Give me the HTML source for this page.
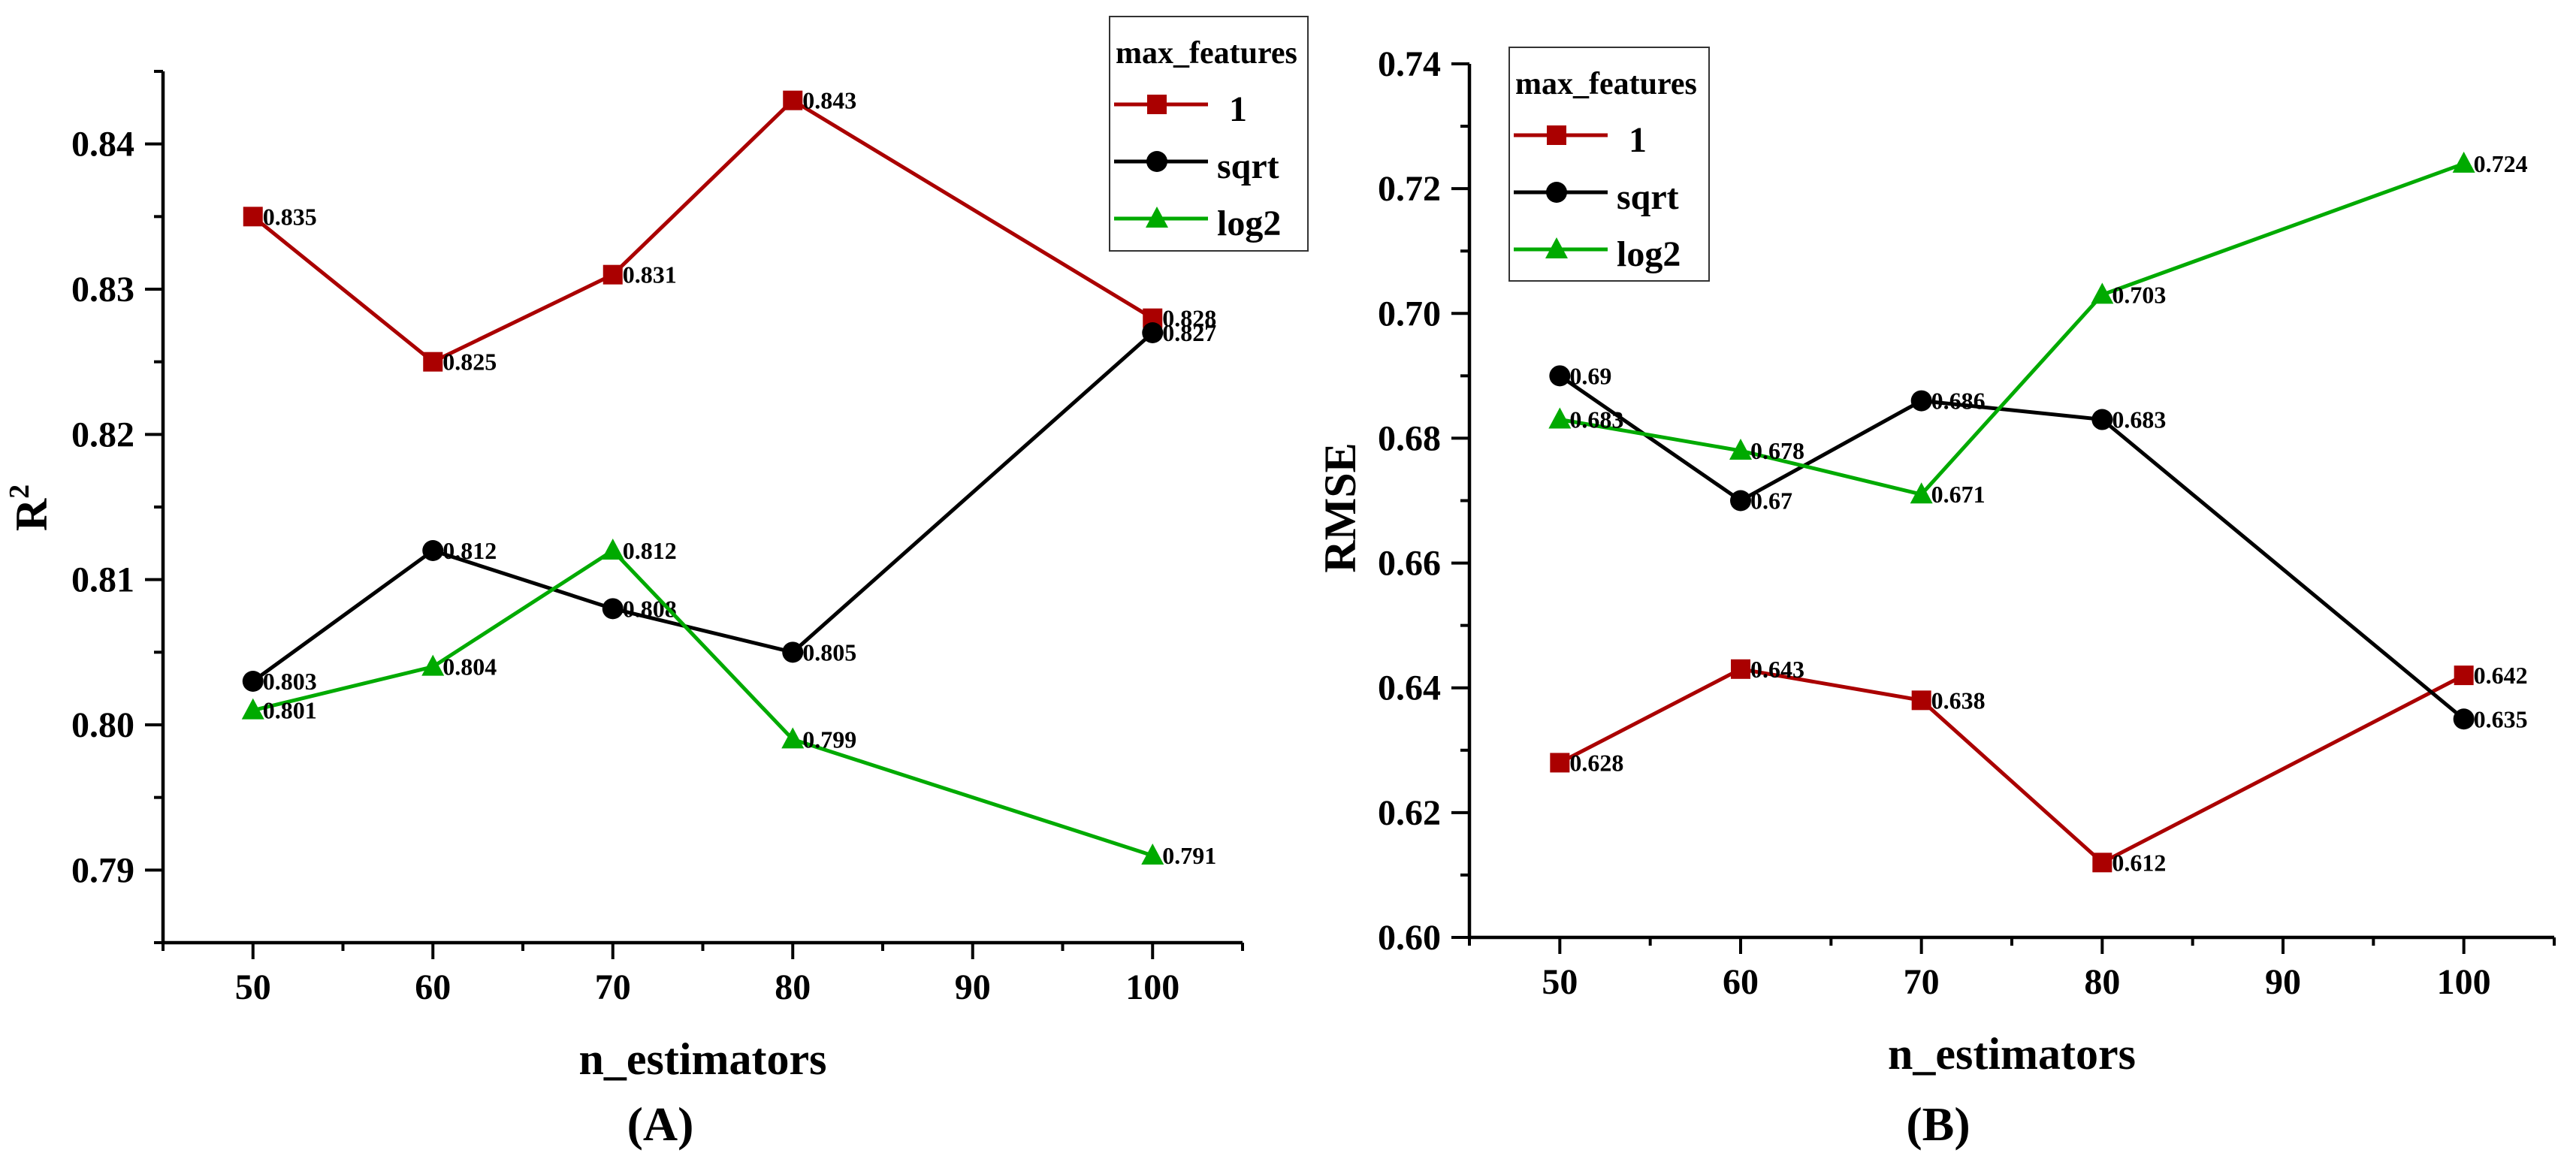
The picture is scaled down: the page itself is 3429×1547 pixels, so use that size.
<!DOCTYPE html>
<html><head><meta charset="utf-8"><style>
html,body{margin:0;padding:0;background:#fff;}
svg{display:block;font-family:"Liberation Serif","Times New Roman",serif;font-weight:bold;}
text{font-family:"Liberation Serif","Times New Roman",serif;font-weight:bold;}
</style></head>
<body>
<svg id="fig" width="3429" height="1547" viewBox="0 0 3429 1547" xmlns="http://www.w3.org/2000/svg" font-family="Liberation Serif, serif" font-weight="bold"></svg>
<script>
const xCategories = [50, 60, 70, 80, 100];
const seriesNames = ["1", "sqrt", "log2"];
const r2One = [0.835, 0.825, 0.831, 0.843, 0.828];
const r2Sqrt = [0.803, 0.812, 0.808, 0.805, 0.827];
const r2Log2 = [0.801, 0.804, 0.812, 0.799, 0.791];
const r2Labels1 = ["0.835","0.825","0.831","0.843","0.828"];
const r2LabelsSqrt = ["0.803","0.812","0.808","0.805","0.827"];
const r2LabelsLog2 = ["0.801","0.804","0.812","0.799","0.791"];
const rmseOne = [0.628, 0.643, 0.638, 0.612, 0.642];
const rmseSqrt = [0.69, 0.67, 0.686, 0.683, 0.635];
const rmseLog2 = [0.683, 0.678, 0.671, 0.703, 0.724];
const rmseLabels1 = ["0.628","0.643","0.638","0.612","0.642"];
const rmseLabelsSqrt = ["0.69","0.67","0.686","0.683","0.635"];
const rmseLabelsLog2 = ["0.683","0.678","0.671","0.703","0.724"];
const xTicks = [50, 60, 70, 80, 90, 100];
const r2Ticks = ["0.79","0.80","0.81","0.82","0.83","0.84"];
const rmseTicks = ["0.60","0.62","0.64","0.66","0.68","0.70","0.72","0.74"];

const NS = "http://www.w3.org/2000/svg";
const svg = document.getElementById("fig");
const RED = "#aa0000", BLK = "#000000", GRN = "#00aa00";
const FONT = '"Liberation Serif", "Times New Roman", serif';
function mk(tag, attrs, parent, text) {
  const e = document.createElementNS(NS, tag);
  for (const k in attrs) e.setAttribute(k, attrs[k]);
  if (tag === "text") { e.setAttribute("font-family", FONT); e.setAttribute("font-weight", "bold"); }
  if (text !== undefined) e.textContent = text;
  (parent || svg).appendChild(e);
  return e;
}
function marker(g, kind, cx, cy, color) {
  let m;
  if (kind === 0) m = mk("rect", {x: cx-13, y: cy-13, width: 26, height: 26, fill: color}, g);
  else if (kind === 1) m = mk("circle", {cx: cx, cy: cy, r: 14, fill: color}, g);
  else m = mk("polygon", {points: `${cx},${cy-16} ${cx+15},${cy+12} ${cx-15},${cy+12}`, fill: color}, g);
  
  
}
function panel(cfg) {
  const g = mk("g", {});
  
  
  const X = v => cfg.x0 + (v - 45) / 60 * (cfg.x1 - cfg.x0);
  const Y = v => cfg.yb - (v - cfg.ymin) / (cfg.ymax - cfg.ymin) * (cfg.yb - cfg.yt);
  const ax = mk("path", {d: `M${cfg.x0},${cfg.yt} V${cfg.yb} H${cfg.x1}`, stroke: "#000", "stroke-width": 4.5, fill: "none"}, g);
  
  
  for (let v = 45; v <= 105.01; v += 5) {
    const major = v % 10 === 0;
    const t = mk("line", {x1: X(v), x2: X(v), y1: cfg.yb, y2: cfg.yb + (major ? 22 : 11), stroke: "#000", "stroke-width": 4}, g);
    
    
  }
  xTicks.forEach(v => {
    const t = mk("text", {x: X(v), y: cfg.yb + 75, "text-anchor": "middle", "font-size": 48}, g, String(v));
    
    
  });
  const nMinor = Math.round((cfg.ymax - cfg.ymin) / cfg.minorStep);
  for (let i = 0; i <= nMinor; i++) {
    const v = cfg.ymin + i * cfg.minorStep;
    const isMajor = cfg.yTicks.some(s => Math.abs(parseFloat(s) - v) < 1e-6);
    const t = mk("line", {x1: cfg.x0 - (isMajor ? 24 : 12), x2: cfg.x0, y1: Y(v), y2: Y(v), stroke: "#000", "stroke-width": 4}, g);
    
    
  }
  cfg.yTicks.forEach(s => {
    const t = mk("text", {x: cfg.x0 - 38, y: Y(parseFloat(s)) + 16, "text-anchor": "end", "font-size": 48}, g, s);
    
    
  });
  const xt = mk("text", {x: (cfg.x0 + cfg.x1) / 2, y: cfg.yb + 175, "text-anchor": "middle", "font-size": 60}, g, "n_estimators");
  
  
  const yt = mk("text", {x: 0, y: 0, "text-anchor": "middle", "font-size": 60, transform: `translate(${cfg.ytX},${cfg.ytY}) rotate(-90)`}, g);
  
  
  if (cfg.ytitle === "R2") {
    mk("tspan", {}, yt, "R");
    mk("tspan", {"font-size": 38, dy: -24}, yt, "2");
  } else yt.textContent = cfg.ytitle;
  const pl = mk("text", {x: cfg.panelX, y: 1518, "text-anchor": "middle", "font-size": 64}, g, cfg.panelLabel);
  
  
  const colors = [RED, BLK, GRN];
  cfg.series.forEach((vals, si) => {
    const sg = mk("g", {}, g);
    
    
    const pts = vals.map((v, i) => `${X(xCategories[i])},${Y(v)}`).join(" ");
    const ln = mk("polyline", {points: pts, fill: "none", stroke: colors[si], "stroke-width": 5}, sg);
    
    
    vals.forEach((v, i) => marker(sg, si, X(xCategories[i]), Y(v), colors[si]));
    vals.forEach((v, i) => {
      const t = mk("text", {x: X(xCategories[i]) + 13, y: Y(v) + 11, "font-size": 32}, sg, cfg.labels[si][i]);
      
      
    });
  });
  const L = cfg.legend;
  const lg = mk("g", {}, g);
  
  
  mk("rect", {x: L.x, y: L.y, width: L.w, height: L.h, fill: "#fff", stroke: "#333", "stroke-width": 2}, lg);
  const lt = mk("text", {x: L.x + 8, y: L.y + 62, "font-size": 42}, lg, "max_features");
  
  
  seriesNames.forEach((n, si) => {
    const ey = L.y + 117 + si * 76;
    const eg = mk("g", {}, lg);
    
    
    mk("line", {x1: L.x + 6, x2: L.x + 131, y1: ey, y2: ey, stroke: colors[si], "stroke-width": 5}, eg);
    marker(eg, si, L.x + 63, ey, colors[si]);
    mk("text", {x: si === 0 ? L.x + 159 : L.x + 143, y: ey + 22, "font-size": 48}, eg, n);
  });
}
panel({name: "chart-r2", x0: 217, x1: 1654, yt: 95, yb: 1255, ymin: 0.785, ymax: 0.845, minorStep: 0.005,
  yTicks: r2Ticks, ytitle: "R2", ytX: 62, ytY: 676, panelLabel: "(A)", panelX: 879,
  series: [r2One, r2Sqrt, r2Log2], labels: [r2Labels1, r2LabelsSqrt, r2LabelsLog2],
  legend: {x: 1477, y: 22, w: 264, h: 312}});
panel({name: "chart-rmse", x0: 1956, x1: 3400, yt: 85, yb: 1248, ymin: 0.60, ymax: 0.74, minorStep: 0.01,
  yTicks: rmseTicks, ytitle: "RMSE", ytX: 1804, ytY: 676, panelLabel: "(B)", panelX: 2580,
  series: [rmseOne, rmseSqrt, rmseLog2], labels: [rmseLabels1, rmseLabelsSqrt, rmseLabelsLog2],
  legend: {x: 2009, y: 63, w: 266, h: 311}});
</script>
</body></html>
